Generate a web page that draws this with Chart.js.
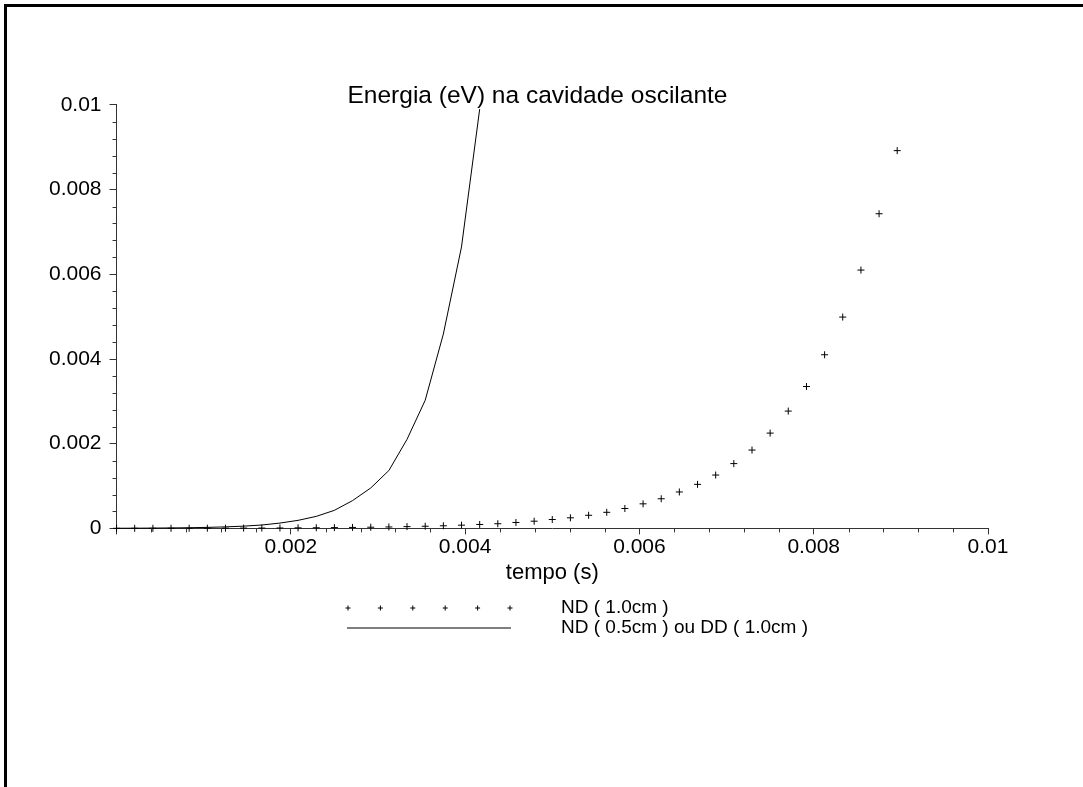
<!DOCTYPE html>
<html>
<head>
<meta charset="utf-8">
<script src="https://cdn.jsdelivr.net/npm/chart.js@4/dist/chart.umd.min.js"></script>
<style>
html,body{margin:0;padding:0;background:#fff;}
#wrap{position:relative;width:1083px;height:787px;}
</style>
</head>
<body>
<div id="wrap"><canvas id="c" width="1083" height="787"></canvas></div>
<script>
// ---- data ----
const timeND10 = [0, 0.000208, 0.000417, 0.000625, 0.000833, 0.001042, 0.00125, 0.001458, 0.001667, 0.001875,
  0.002083, 0.002292, 0.0025, 0.002708, 0.002917, 0.003125, 0.003333, 0.003542, 0.00375, 0.003958,
  0.004167, 0.004375, 0.004583, 0.004792, 0.005, 0.005208, 0.005417, 0.005625, 0.005833, 0.006042,
  0.00625, 0.006458, 0.006667, 0.006875, 0.007083, 0.007292, 0.0075, 0.007708, 0.007917, 0.008125,
  0.008333, 0.008542, 0.00875, 0.008958];
const energyND10 = [0.0000017, 0.0000021, 0.0000026, 0.0000031, 0.0000038, 0.0000047, 0.0000057, 0.000007, 0.0000085, 0.00001,
  0.000013, 0.000015, 0.000019, 0.000023, 0.000028, 0.000034, 0.000042, 0.000051, 0.000062, 0.000076,
  0.000093, 0.00011, 0.00014, 0.00017, 0.00021, 0.00025, 0.00031, 0.00038, 0.00047, 0.00058,
  0.0007, 0.00086, 0.00104, 0.00126, 0.00153, 0.00185, 0.00225, 0.00277, 0.00335, 0.0041,
  0.00499, 0.0061, 0.00743, 0.00892];
const timeND05 = [0, 0.000208, 0.000417, 0.000625, 0.000833, 0.001042, 0.00125, 0.001458, 0.001667, 0.001875,
  0.002083, 0.002292, 0.0025, 0.002708, 0.002917, 0.003125, 0.003333, 0.003542, 0.00375, 0.003958, 0.004167];
const energyND05 = [0.0000035, 0.000005, 0.0000075, 0.000011, 0.000016, 0.000024, 0.000036, 0.000053, 0.00008, 0.000126,
  0.00019, 0.000284, 0.000427, 0.000656, 0.000955, 0.001367, 0.002102, 0.003026, 0.00459, 0.006643, 0.0099];
const seriesLabels = ['ND ( 1.0cm )', 'ND ( 0.5cm ) ou DD ( 1.0cm )'];
const chartTitle = 'Energia (eV) na cavidade oscilante';
const xAxisTitle = 'tempo (s)';
const axisMin = 0, axisMax = 0.01, majorStep = 0.002, minorStep = 0.0004;

const FONT = "'Liberation Sans', Arial, Helvetica, sans-serif";
const fmt = v => String(Number(v.toFixed(5)));

const frameAndMinorTicks = {
  id: 'frameAndMinorTicks',
  beforeDraw(chart) {
    const ctx = chart.ctx;
    ctx.save();
    ctx.fillStyle = '#000';
    ctx.fillRect(4, 4, chart.width - 4, 3);
    ctx.fillRect(4, 4, 3, chart.height - 4);
    ctx.restore();
  },
  afterDraw(chart) {
    const ctx = chart.ctx;
    const xs = chart.scales.x, ys = chart.scales.y;
    ctx.save();
    ctx.strokeStyle = '#333';
    ctx.lineWidth = 1;
    ctx.beginPath();
    const n = Math.round((axisMax - axisMin) / minorStep);
    for (let k = 1; k <= n; k++) {
      if (k % 5 === 0) continue;
      const v = axisMin + k * minorStep;
      const px = Math.round(xs.getPixelForValue(v)) + 0.5;
      ctx.moveTo(px, xs.top);
      ctx.lineTo(px, xs.top + 4);
      const py = Math.round(ys.getPixelForValue(v)) + 0.5;
      ctx.moveTo(ys.right, py);
      ctx.lineTo(ys.right - 4, py);
    }
    ctx.stroke();
    ctx.restore();

    // legend (Maple style)
    const ds = chart.data.datasets;
    ctx.save();
    ctx.fillStyle = '#000';
    ctx.strokeStyle = '#000';
    ctx.lineWidth = 1;
    const lx0 = 348, lx1 = 510, ly0 = 608, ly1 = 628;
    for (let k = 0; k < 6; k++) {
      const px = lx0 + k * (lx1 - lx0) / 5;
      Chart.helpers.drawPoint(ctx, {pointStyle: 'cross', radius: 2.5, rotation: 0, borderWidth: 1}, px, ly0);
    }
    ctx.beginPath();
    ctx.moveTo(347, ly1);
    ctx.lineTo(511, ly1);
    ctx.stroke();
    ctx.font = '19px ' + FONT;
    ctx.textAlign = 'left';
    ctx.textBaseline = 'middle';
    ctx.fillText(ds[0].label, 561, ly0);
    ctx.fillText(ds[1].label, 561, ly1);
    ctx.restore();
  }
};

new Chart(document.getElementById('c'), {
  type: 'scatter',
  data: {
    datasets: [
      {
        label: seriesLabels[0],
        data: timeND10.map((t, i) => ({x: t, y: energyND10[i]})),
        showLine: false,
        pointStyle: 'cross',
        pointRadius: 3.5,
        pointBorderWidth: 1,
        pointBorderColor: '#000',
        pointBackgroundColor: '#000',
        clip: false
      },
      {
        label: seriesLabels[1],
        data: timeND05.map((t, i) => ({x: t, y: energyND05[i]})),
        showLine: true,
        tension: 0,
        borderColor: '#000',
        borderWidth: 1,
        pointRadius: 0,
        clip: false
      }
    ]
  },
  options: {
    responsive: false,
    animation: false,
    layout: {padding: {left: 41, right: 49, top: 82, bottom: 201}},
    plugins: {
      legend: {display: false},
      tooltip: {enabled: false},
      title: {
        display: true,
        text: chartTitle,
        color: '#000',
        font: {family: FONT, size: 24.5, weight: 'normal'},
        padding: {top: 0, bottom: -6.5}
      }
    },
    scales: {
      x: {
        type: 'linear', min: axisMin, max: axisMax,
        ticks: {stepSize: majorStep, callback: v => v === 0 ? '' : fmt(v), color: '#000',
          font: {family: FONT, size: 21}, padding: 0, maxRotation: 0, autoSkip: false},
        grid: {drawOnChartArea: false, drawTicks: true, tickLength: 6, color: '#333'},
        border: {color: '#333', width: 1},
        title: {display: true, text: xAxisTitle, color: '#000', font: {family: FONT, size: 22}, padding: {top: 0, bottom: 0}}
      },
      y: {
        type: 'linear', min: axisMin, max: axisMax,
        ticks: {stepSize: majorStep, callback: v => fmt(v), color: '#000',
          font: {family: FONT, size: 21}, padding: 8},
        grid: {drawOnChartArea: false, drawTicks: true, tickLength: 7, color: '#333'},
        border: {color: '#333', width: 1}
      },
      yR: {
        type: 'linear', position: 'right', display: true,
        ticks: {display: false},
        grid: {display: false, drawTicks: false},
        border: {display: false},
        afterFit(s) { s.width = 46; }
      }
    }
  },
  plugins: [frameAndMinorTicks]
});
</script>
</body>
</html>
